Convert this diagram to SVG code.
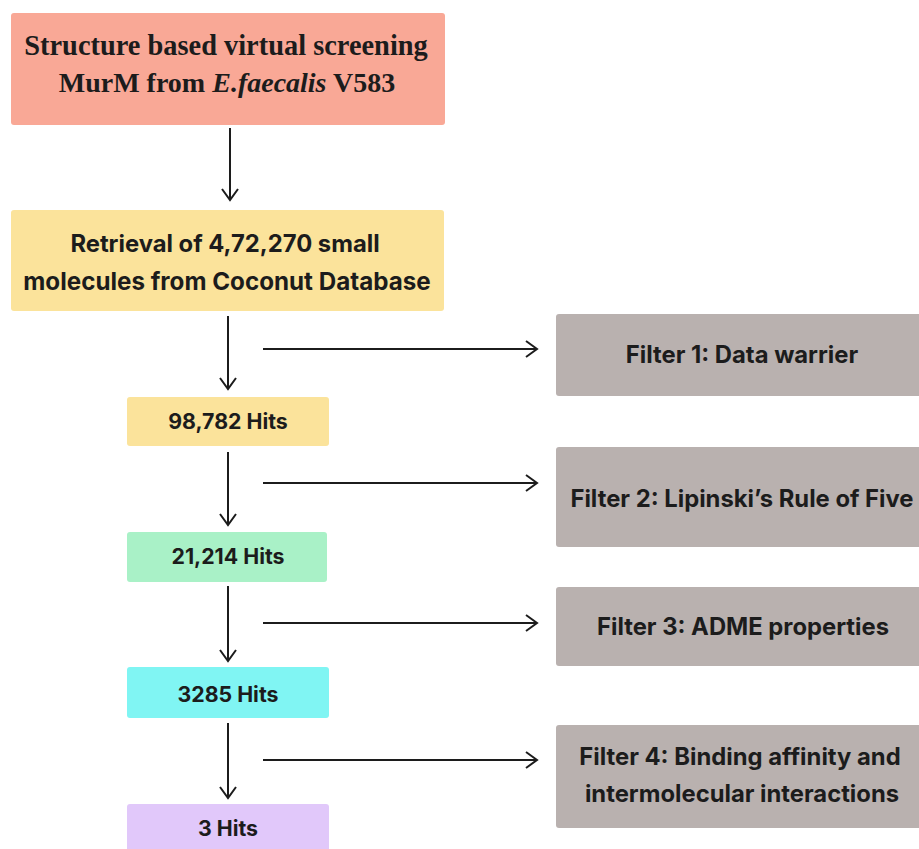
<svg xmlns="http://www.w3.org/2000/svg" width="919" height="849" viewBox="0 0 919 849">
<style>
.t{font-family:Inter,"Liberation Sans",sans-serif;font-weight:700;fill:#1c1c1c;text-anchor:middle}
.s{font-family:"Liberation Serif","DejaVu Serif",serif;font-weight:700;fill:#1c1c1c;text-anchor:middle}
.c{stroke:#1c1c1c;stroke-width:2;fill:none}
.f{font-size:23.8px}
.h{font-size:21.3px}
</style>
<defs>
<marker id="ah" viewBox="0 0 14 18" refX="12" refY="9" markerWidth="14" markerHeight="18" markerUnits="userSpaceOnUse" orient="auto">
<path d="M1,1 L12,9 L1,17" fill="none" stroke="#1c1c1c" stroke-width="2"/>
</marker>
</defs>
<rect width="919" height="849" fill="#fff"/>
<g id="connectors">
<line class="c" x1="230" y1="128" x2="230" y2="200" marker-end="url(#ah)"/>
<line class="c" x1="228" y1="316" x2="228" y2="389" marker-end="url(#ah)"/>
<line class="c" x1="263" y1="349" x2="537" y2="349" marker-end="url(#ah)"/>
<line class="c" x1="228" y1="452" x2="228" y2="525" marker-end="url(#ah)"/>
<line class="c" x1="263" y1="483" x2="537" y2="483" marker-end="url(#ah)"/>
<line class="c" x1="228" y1="586" x2="228" y2="661" marker-end="url(#ah)"/>
<line class="c" x1="263" y1="623" x2="537" y2="623" marker-end="url(#ah)"/>
<line class="c" x1="228" y1="723" x2="228" y2="798" marker-end="url(#ah)"/>
<line class="c" x1="263" y1="760" x2="537" y2="760" marker-end="url(#ah)"/>
</g>
<g id="n_start">
<rect x="11" y="13" width="434" height="112" rx="3" fill="#f9a896"/>
<text class="s" x="226" y="55" font-size="28.4">Structure based virtual screening</text>
<text class="s" x="227" y="92" font-size="28">MurM from <tspan font-style="italic">E.faecalis</tspan> V583</text>
</g>
<g id="n_retrieval">
<rect x="11" y="210" width="433" height="101" rx="3" fill="#fbe39b"/>
<text class="t f" x="225" y="252">Retrieval of 4,72,270 small</text>
<text class="t" x="227" y="290" font-size="24.2">molecules from Coconut Database</text>
</g>
<g id="n_98782">
<rect x="127" y="397" width="202" height="49" rx="3" fill="#fbe39b"/>
<text class="t h" x="228" y="429">98,782 Hits</text>
</g>
<g id="n_21214">
<rect x="127" y="532" width="200" height="50" rx="3" fill="#a9f1c7"/>
<text class="t h" x="228" y="564">21,214 Hits</text>
</g>
<g id="n_3285">
<rect x="127" y="667" width="202" height="51" rx="3" fill="#80f5f3"/>
<text class="t h" x="228" y="702">3285 Hits</text>
</g>
<g id="n_3">
<rect x="127" y="804" width="202" height="50" rx="3" fill="#e1c8fa"/>
<text class="t h" x="228" y="836">3 Hits</text>
</g>
<g id="f1">
<rect x="556" y="314" width="370" height="82" rx="3" fill="#b9b1af"/>
<text class="t f" x="742" y="363">Filter 1: Data warrier</text>
</g>
<g id="f2">
<rect x="556" y="447" width="370" height="100" rx="3" fill="#b9b1af"/>
<text class="t f" x="742" y="507">Filter 2: Lipinski’s Rule of Five</text>
</g>
<g id="f3">
<rect x="556" y="587" width="370" height="79" rx="3" fill="#b9b1af"/>
<text class="t f" x="743" y="635">Filter 3: ADME properties</text>
</g>
<g id="f4">
<rect x="556" y="725" width="370" height="103" rx="3" fill="#b9b1af"/>
<text class="t f" x="740" y="765">Filter 4: Binding affinity and</text>
<text class="t f" x="742" y="802">intermolecular interactions</text>
</g>
</svg>
